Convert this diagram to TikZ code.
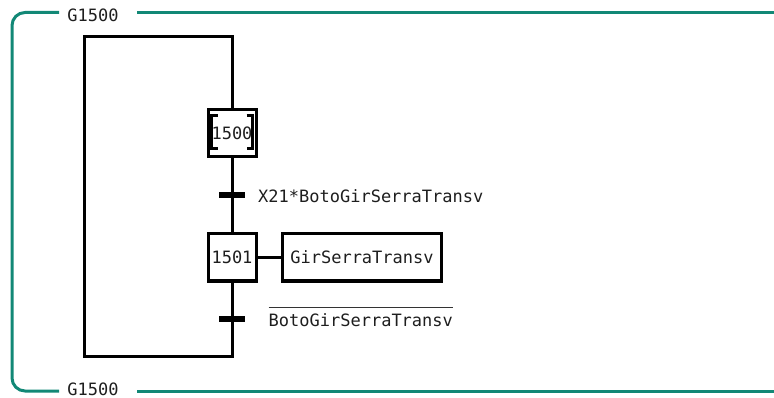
\documentclass[tikz,border=0pt]{standalone}
\usepackage{fontspec}
\newfontfamily\codefont{DejaVu Sans Mono}
\definecolor{frameteal}{RGB}{18,136,118}
\definecolor{inkgray}{RGB}{30,30,30}
\begin{document}
\begin{tikzpicture}[x=1pt,y=-1pt,
  every node/.style={font=\codefont\fontsize{17}{20}\selectfont, text=inkgray, inner sep=0pt},
  flow/.style={line width=3pt, black},
  stepbox/.style={draw=black, line width=3pt, minimum width=48pt, minimum height=47pt},
  actbox/.style={draw=black, line width=3pt, minimum width=159pt, minimum height=47pt},
  trbar/.style={fill=black, minimum width=26pt, minimum height=6pt},
  grafcet/.style={line width=3pt, frameteal, line cap=butt}]
\useasboundingbox (0,0) rectangle (774,398);

% grafcet frame with its name at top and bottom
\node (gtop) at (93,15.5) {G1500};
\node (gbot) at (93,389) {G1500};
\draw[grafcet, rounded corners=13pt] (59,12.5) -- (12,12.5) -- (12,391) -- (59,391);
\draw[grafcet] (137,12.5) -- (774,12.5);
\draw[grafcet] (137,391) -- (774,391);

% steps, transitions and action
\node[stepbox] (s1500) at (232,133) {1500};
\node[trbar] (t1) at (232,195) {};
\node[stepbox] (s1501) at (232,257.5) {1501};
\node[actbox] (a1501) at (362,257.5) {GirSerraTransv};
\node[trbar] (t2) at (232,319) {};

% initial step: inner brackets
\draw[line width=2.3pt, black]
  ([xshift=11pt]s1500.north west |- 0,115.5) -- ++(-6pt,0) -- ++(0,33) -- ++(6pt,0);
\draw[line width=2.3pt, black]
  ([xshift=-11pt]s1500.north east |- 0,115.5) -- ++(6pt,0) -- ++(0,33) -- ++(-6pt,0);

% receptivities
\node[anchor=west] (r1) at (258,196) {X21*BotoGirSerraTransv};
\node[anchor=west] (r2) at (268.5,320.5) {BotoGirSerraTransv};
\draw[line width=1.4pt, black!80] ([yshift=6pt]r2.north west) -- ([yshift=6pt]r2.north east);

% links
\coordinate (lt) at (84,36.5);
\coordinate (lb) at (84,356.5);
\draw[flow] (s1500.south) -- (t1) -- (s1501.north);
\draw[flow] (s1501.east) -- (a1501.west);
\draw[flow] (s1500.north) |- (lt) -- (lb) -| (s1501.south);
\node[trbar] at (t2) {};
\node[trbar] at (t1) {};
\end{tikzpicture}
\end{document}
